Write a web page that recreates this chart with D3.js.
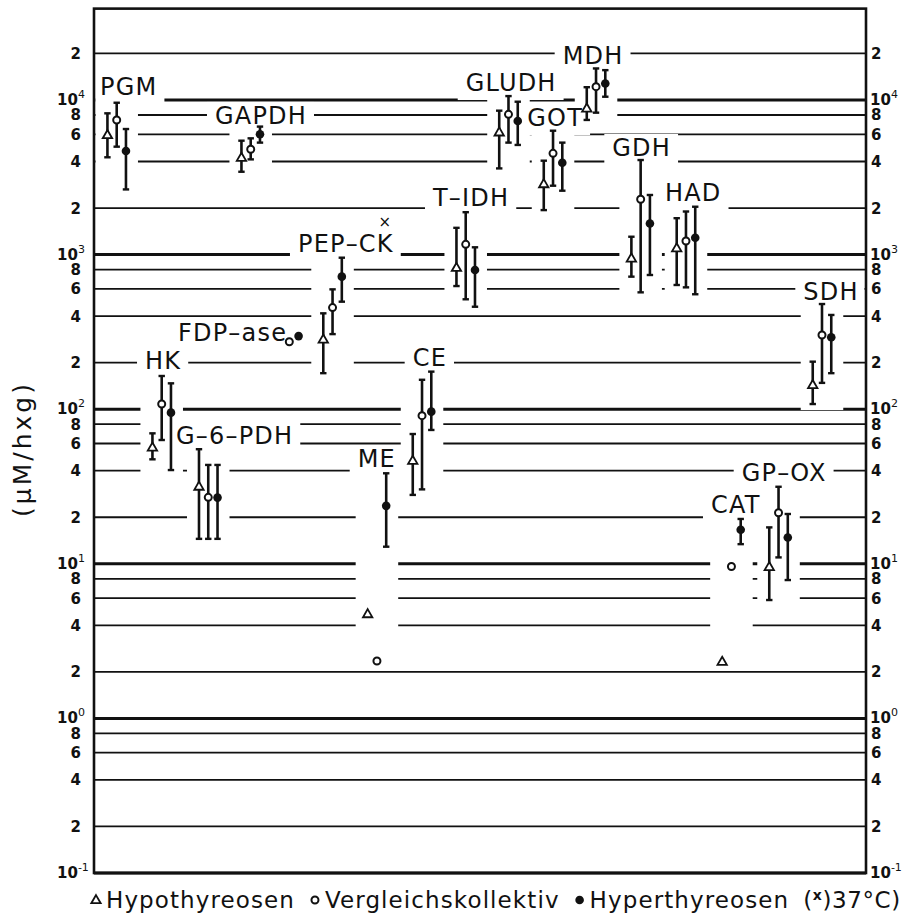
<!DOCTYPE html>
<html>
<head>
<meta charset="utf-8">
<script src="https://cdn.jsdelivr.net/npm/d3@7"></script>
<style>
  body { margin: 0; background: #fff; }
  svg { display: block; }
</style>
</head>
<body>
<div id="chart"></div>
<script>

// enzyme groups, left to right as they appear (x position in 0..100 units)
const enzymes  = ["PGM", "GAPDH", "PEP–CK", "FDP–ase", "HK", "G–6–PDH", "ME", "CE", "T–IDH",
                  "GLUDH", "GOT", "MDH", "GDH", "HAD", "SDH", "CAT", "GP–OX"];
const groupPos = [2.94, 20.3, 30.9, 25.3, 8.77, 14.8, 36.65, 42.49, 48.15,
                  53.69, 59.46, 65.03, 70.81, 76.68, 94.3, 82.57, 88.67];

// [mean, lower, upper]  (µM/h x g), null = not measured
const hypo = [
   [5940, 4260, 8200], [4235, 3435, 5455], [283, 171, 417], null, [56.6, 47.4, 69.8],
   [31.6, 14.5, 55.1], [4.73, null, null], [46.5, 27.9, 69.1], [822, 626, 1490],
   [6180, 3610, 8530], [2860, 1940, 4050], [8830, 7430, 12100], [946, 720, 1305],
   [1100, 636, 1720], [143.5, 108, 203], [2.33, null, null], [9.55, 5.83, 17.2]
];
const control = [
   [7430, 4990, 9600], [4800, 4130, 5650], [454, 306, 596], [273, null, null], [108, 63.2, 164],
   [26.9, 14.5, 43.6], [2.35, null, null], [90.8, 30.3, 155], [1165, 514, 1880],
   [8080, 5300, 10600], [4520, 2790, 6330], [12200, 8280, 16000], [2280, 570, 4090],
   [1225, 614, 1900], [302, 148, 479], [9.6, null, null], [21.4, 11.0, 31.5]
];
const hyper = [
   [4680, 2640, 6490], [6000, 5300, 6730], [720, 496, 955], [297, null, null], [95, 40.4, 147],
   [26.8, 14.5, 43.6], [23.7, 12.9, 38.5], [96.4, 73.4, 175], [795, 460, 1115],
   [7310, 5120, 9750], [3930, 2590, 5300], [12800, 10500, 15600], [1590, 738, 2430],
   [1285, 554, 2040], [292, 171, 407], [16.6, 13.4, 19.5], [14.8, 7.85, 21.0]
];

// where each enzyme name sits: [x units, value at baseline]
const labelAt = [
   [0.78, 10770], [15.67, 7000], [26.42, 1040], [10.88, 276], [6.61, 182],
   [10.62, 59.6], [34.16, 42.3], [41.28, 190], [43.91, 2060],
   [48.15, 11430], [56.13, 6790], [60.71, 17100], [67.14, 4345], [73.96, 2220],
   [91.88, 508], [79.92, 21.3], [83.9, 34.3]
];
const at37 = ["PEP–CK"];

const decadeExps = [-1, 0, 1, 2, 3, 4];
const minorMults = [2, 4, 6, 8];
const yTop = 3.9e4;

const legendNames = ["Hypothyreosen", "Vergleichskollektiv", "Hyperthyreosen"];
const legendShapes = ["tri", "circle", "dot"];

const width = 906;
const height = 918;
const plot = {left: 94, right: 866, bottom: 873, decadeTop: 100};

const svg = d3.select("#chart")
              .append("svg")
              .attr("width", width)
              .attr("height", height)
              .attr("viewBox", [0, 0, width, height]);

const x = d3.scaleLinear()
            .domain([0, 100])
            .range([plot.left, plot.right]);

const y = d3.scaleLog()
            .domain([0.1, 1e4])
            .range([plot.bottom, plot.decadeTop]);

// grid values
const gridValues = [];
decadeExps.forEach(e => {
   gridValues.push({v: Math.pow(10, e), major: true, exp: e});
   minorMults.forEach(m => {
      if (m * Math.pow(10, e) < yTop) gridValues.push({v: m * Math.pow(10, e), major: false, text: String(m)});
   });
});

// points from the three series
const series = [
   {data: hypo, shape: "tri", off: -1.2},
   {data: control, shape: "circle", off: 0},
   {data: hyper, shape: "dot", off: 1.2}
];
const points = [];
series.forEach(s => {
   s.data.forEach((d, i) => {
      if (!d) return;
      points.push({i: i, x: groupPos[i] + s.off, v: d[0], lo: d[1], hi: d[2], shape: s.shape});
   });
});

const gGrid = svg.append("g");
const gKnock = svg.append("g").attr("fill", "#fff");
const gFrame = svg.append("g");
const gBars = svg.append("g");
const gLabels = svg.append("g");

gGrid.selectAll("line")
     .data(gridValues)
     .join("line")
     .attr("x1", plot.left)
     .attr("x2", plot.right)
     .attr("y1", d => y(d.v))
     .attr("y2", d => y(d.v))
     .attr("stroke", "#111")
     .attr("stroke-width", d => d.major ? 3 : 1.8);

// blank out grid around each group of bars
const clampX = v => Math.max(plot.left + 1.5, Math.min(plot.right - 1.5, v));
enzymes.forEach((name, i) => {
   const pts = points.filter(p => p.i === i);
   const xs = pts.map(p => x(p.x));
   const tops = pts.map(p => y(p.hi != null ? p.hi : p.v));
   const bots = pts.map(p => y(p.lo != null ? p.lo : p.v));
   const x0 = clampX(d3.min(xs) - 12), x1 = clampX(d3.max(xs) + 12);
   gKnock.append("rect")
         .attr("x", x0)
         .attr("y", d3.min(tops) - 6)
         .attr("width", x1 - x0)
         .attr("height", d3.max(bots) - d3.min(tops) + 12);
});

// enzyme names
const labelSize = 24;
enzymes.forEach((name, i) => {
   const lx = x(labelAt[i][0]);
   const ly = y(labelAt[i][1]);
   const t = gLabels.append("text")
                    .attr("x", lx)
                    .attr("y", ly)
                    .attr("font-family", "DejaVu Sans")
                    .attr("font-size", labelSize)
                    .attr("letter-spacing", 1.2)
                    .attr("fill", "#111")
                    .text(name);
   const w = t.node().getComputedTextLength();
   const x0 = clampX(lx - 8), x1 = clampX(lx + w + 7);
   gKnock.append("rect")
         .attr("x", x0)
         .attr("y", ly - labelSize * 0.75 - 4)
         .attr("width", x1 - x0)
         .attr("height", labelSize * 0.75 + 13);
   if (at37.includes(name)) {
      gLabels.append("text")
             .attr("x", lx + w - 9)
             .attr("y", ly - 25)
             .attr("text-anchor", "middle")
             .attr("font-family", "DejaVu Sans")
             .attr("font-size", 15)
             .attr("fill", "#111")
             .text("×");
   }
});

// frame
gFrame.append("rect")
      .attr("x", plot.left)
      .attr("y", y(yTop))
      .attr("width", plot.right - plot.left)
      .attr("height", plot.bottom - y(yTop))
      .attr("fill", "none")
      .attr("stroke", "#111")
      .attr("stroke-width", 2.6);

// error bars
const withBars = points.filter(p => p.lo != null);
gBars.selectAll("line.bar")
     .data(withBars)
     .join("line")
     .attr("class", "bar")
     .attr("x1", d => x(d.x))
     .attr("x2", d => x(d.x))
     .attr("y1", d => y(d.lo))
     .attr("y2", d => y(d.hi))
     .attr("stroke", "#111")
     .attr("stroke-width", 2.6);

const caps = [];
withBars.forEach(d => { caps.push({x: d.x, v: d.lo}); caps.push({x: d.x, v: d.hi}); });
gBars.selectAll("line.cap")
     .data(caps)
     .join("line")
     .attr("class", "cap")
     .attr("x1", d => x(d.x) - 3.2)
     .attr("x2", d => x(d.x) + 3.2)
     .attr("y1", d => y(d.v))
     .attr("y2", d => y(d.v))
     .attr("stroke", "#111")
     .attr("stroke-width", 2.4);

const triPath = d3.symbol().type(d3.symbolTriangle).size(38)();

const drawMark = (g, shape, cx, cy) => {
   if (shape === "tri") {
      g.append("path")
       .attr("d", triPath)
       .attr("transform", `translate(${cx},${cy + 0.5})`)
       .attr("fill", "#fff")
       .attr("stroke", "#111")
       .attr("stroke-width", 1.8);
   } else if (shape === "circle") {
      g.append("circle")
       .attr("cx", cx).attr("cy", cy).attr("r", 3.5)
       .attr("fill", "#fff")
       .attr("stroke", "#111")
       .attr("stroke-width", 2);
   } else {
      g.append("circle")
       .attr("cx", cx).attr("cy", cy).attr("r", 4.3)
       .attr("fill", "#111");
   }
};

points.forEach(p => drawMark(gBars, p.shape, x(p.x), y(p.v)));

// axis tick labels, both sides
const gTicks = svg.append("g")
                  .attr("font-family", "DejaVu Sans")
                  .attr("font-weight", "bold")
                  .attr("font-size", 15)
                  .attr("fill", "#111");

[{side: "left"}, {side: "right"}].forEach(a => {
   gridValues.forEach(d => {
      const ty = y(d.v);
      if (d.major) {
         const t = gTicks.append("text")
                         .attr("x", a.side === "left" ? 57 : 870)
                         .attr("y", ty + 5);
         t.append("tspan").text("10");
         t.append("tspan")
          .attr("font-size", 11)
          .attr("font-weight", "normal")
          .attr("dy", -7)
          .text(d.exp < 0 ? "-" + Math.abs(d.exp) : d.exp);
      } else {
         gTicks.append("text")
               .attr("x", a.side === "left" ? 81 : 871)
               .attr("y", ty + 5.5)
               .attr("text-anchor", a.side === "left" ? "end" : "start")
               .text(d.text);
      }
   });
});

// y axis title
svg.append("text")
   .attr("transform", "translate(31, 449) rotate(-90)")
   .attr("text-anchor", "middle")
   .attr("font-family", "DejaVu Sans")
   .attr("font-size", 25)
   .attr("letter-spacing", 3)
   .attr("fill", "#111")
   .text("(µM/hxg)");

// legend
const gLegend = svg.append("g");
let lx = 92;
const legY = 908;
legendNames.forEach((name, i) => {
   drawMark(gLegend, legendShapes[i], lx + 4, legY - 8);
   const t = gLegend.append("text")
                    .attr("x", lx + 14)
                    .attr("y", legY)
                    .attr("font-family", "DejaVu Sans")
                    .attr("font-size", 23)
                    .attr("letter-spacing", 1.1)
                    .attr("fill", "#111")
                    .text(name);
   lx = lx + 14 + t.node().getComputedTextLength() + 16;
});
const note = gLegend.append("text")
                    .attr("x", lx - 2)
                    .attr("y", legY)
                    .attr("font-family", "DejaVu Sans")
                    .attr("font-size", 23)
                    .attr("letter-spacing", 0.6)
                    .attr("fill", "#111");
note.append("tspan").text("(");
note.append("tspan").attr("font-size", 14).attr("font-weight", "bold").attr("dy", -8).text("x");
note.append("tspan").attr("dy", 8).text(")37°C)");

</script>
</body>
</html>
